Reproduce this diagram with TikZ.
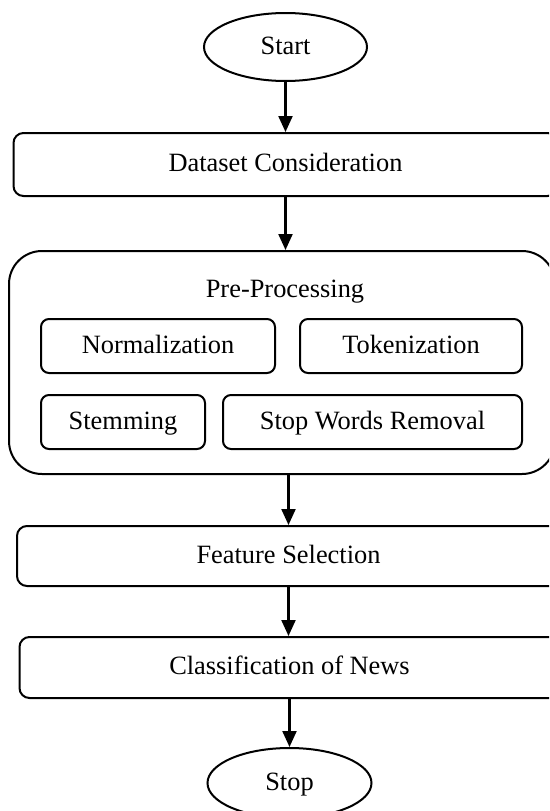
\documentclass[tikz,border=0pt]{standalone}
\usepackage{fontspec}
\setmainfont{Liberation Serif}
\usetikzlibrary{shapes.geometric,arrows.meta}
\begin{document}
\begin{tikzpicture}[x=1pt,y=-1pt,
  every node/.style={font=\fontsize{26.4}{31}\selectfont, inner sep=0pt, text height=19pt, text depth=5pt},
  terminal/.style={draw, ellipse, line width=2pt, minimum width=163pt, minimum height=68pt},
  stepbox/.style={draw, rectangle, rounded corners=10pt, line width=2pt, minimum height=62pt},
  subbox/.style={draw, rectangle, rounded corners=8pt, line width=2pt, minimum height=54pt},
  groupbox/.style={draw, rectangle, rounded corners=33pt, line width=2pt},
  arr/.style={line width=2.2pt, -{Triangle[width=14pt,length=16pt]}}]
\useasboundingbox (0,0) rectangle (549,811);
\clip (0,0) rectangle (549,811);
\node[terminal] (start) at (285.5,47) {Start};
\node[stepbox, minimum width=544pt, minimum height=63pt] (ds) at (285.5,164.5) {Dataset Consideration};
\node[groupbox, minimum width=546pt, minimum height=223pt] (pre) at (282,362.5) {};
\node (pretitle) at (285,290) {Pre-Processing};
\node[subbox, minimum width=234pt] (norm) at (158,346) {Normalization};
\node[subbox, minimum width=222pt] (tok) at (411,346) {Tokenization};
\node[subbox, minimum width=164pt] (stem) at (123,422) {Stemming};
\node[subbox, minimum width=299pt] (swr) at (372.5,422) {Stop Words Removal};
\node[stepbox, minimum width=543pt, minimum height=60pt] (fs) at (288.5,556) {Feature Selection};
\node[stepbox, minimum width=540pt, minimum height=61pt] (cn) at (289.5,667.5) {Classification of News};
\node[terminal, minimum width=164pt, minimum height=70pt] (stop) at (289.5,783) {Stop};
\draw[arr] (start.south) -- (start.south |- ds.north);
\draw[arr] (ds.south) -- (ds.south |- pre.north);
\draw[arr] (fs.north |- pre.south) -- (fs.north);
\draw[arr] (fs.south) -- (fs.south |- cn.north);
\draw[arr] (cn.south) -- (cn.south |- stop.north);
\end{tikzpicture}
\end{document}
